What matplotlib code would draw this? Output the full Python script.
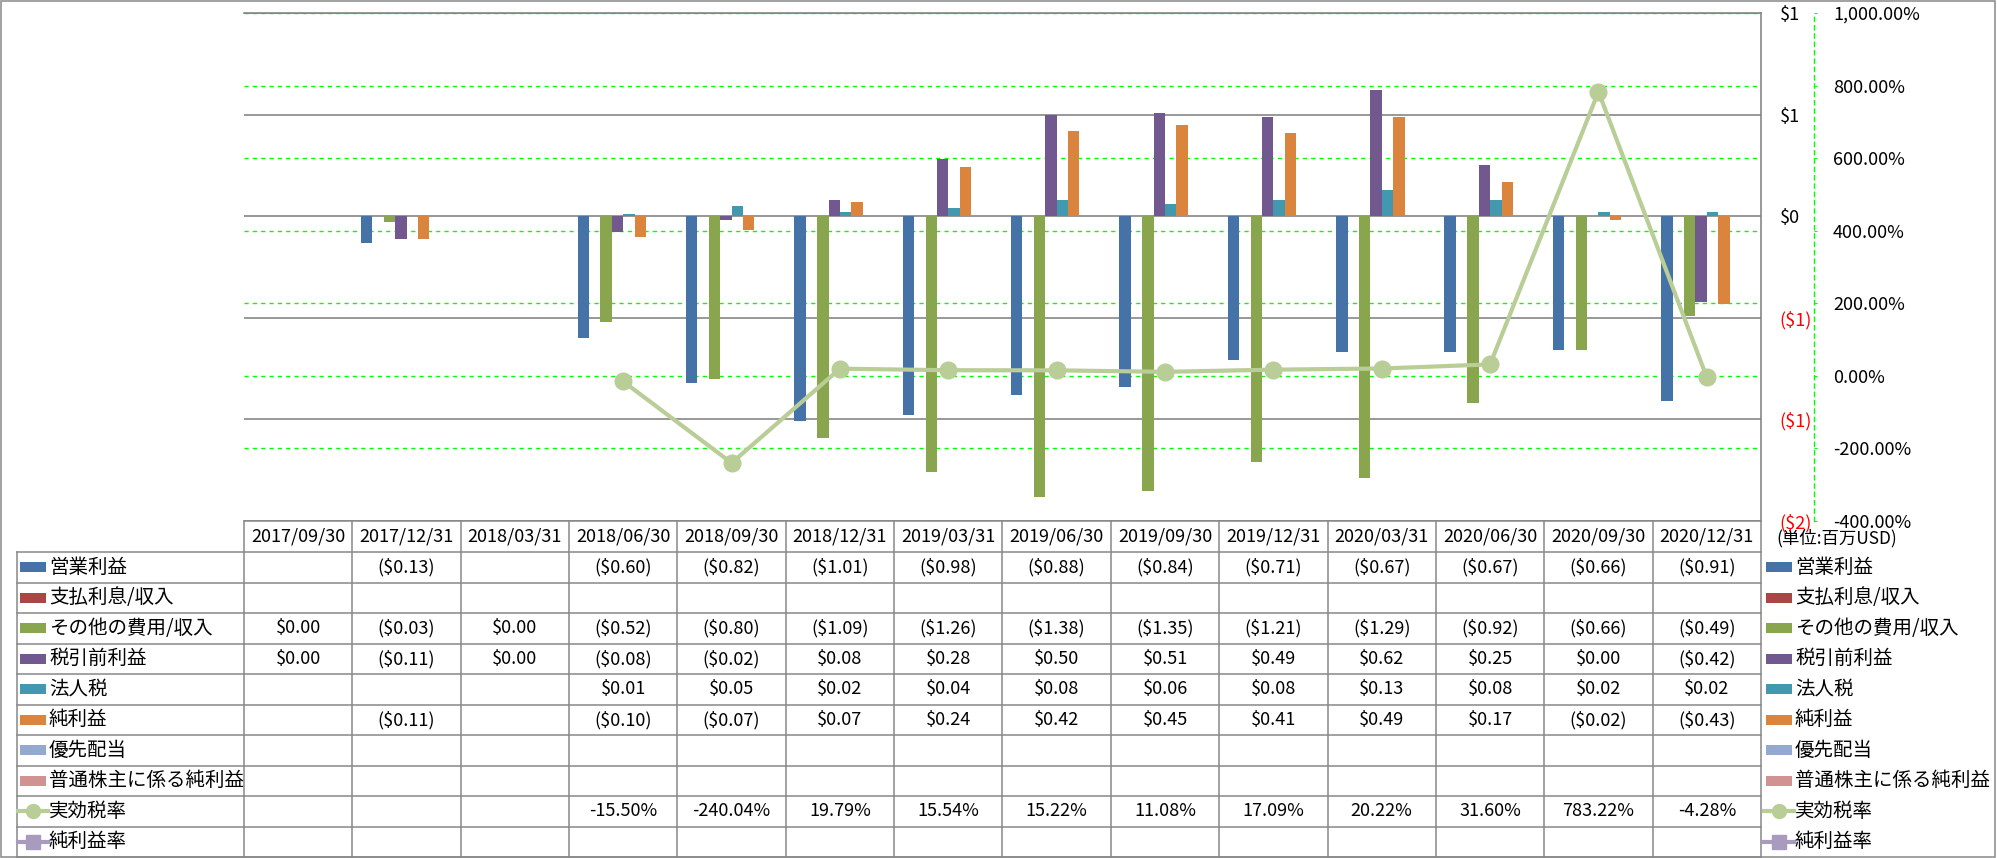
import numpy as np
import matplotlib
matplotlib.use('Agg')
import matplotlib.pyplot as plt
from matplotlib.patches import Rectangle

plt.rcParams['font.family'] = ['Noto Sans CJK JP', 'DejaVu Sans']

nan = np.nan

#%% data
categories = ['2017/09/30', '2017/12/31', '2018/03/31', '2018/06/30', '2018/09/30',
              '2018/12/31', '2019/03/31', '2019/06/30', '2019/09/30', '2019/12/31',
              '2020/03/31', '2020/06/30', '2020/09/30', '2020/12/31']

eigyo = [nan, -0.13, nan, -0.60, -0.82, -1.01, -0.98, -0.88, -0.84, -0.71, -0.67, -0.67, -0.66, -0.91]
shiharai = [nan] * 14
sonota = [0.00, -0.03, 0.00, -0.52, -0.80, -1.09, -1.26, -1.38, -1.35, -1.21, -1.29, -0.92, -0.66, -0.49]
zeibiki = [0.00, -0.11, 0.00, -0.08, -0.02, 0.08, 0.28, 0.50, 0.51, 0.49, 0.62, 0.25, 0.00, -0.42]
hojinzei = [nan, nan, nan, 0.01, 0.05, 0.02, 0.04, 0.08, 0.06, 0.08, 0.13, 0.08, 0.02, 0.02]
junrieki = [nan, -0.11, nan, -0.10, -0.07, 0.07, 0.24, 0.42, 0.45, 0.41, 0.49, 0.17, -0.02, -0.43]
yusen = [nan] * 14
futsu = [nan] * 14
jikko = [nan, nan, nan, -15.50, -240.04, 19.79, 15.54, 15.22, 11.08, 17.09, 20.22, 31.60, 783.22, -4.28]
junriekiritsu = [nan] * 14

bar_names = ['営業利益', '支払利息/収入', 'その他の費用/収入', '税引前利益', '法人税', '純利益',
             '優先配当', '普通株主に係る純利益']
bar_data = [eigyo, shiharai, sonota, zeibiki, hojinzei, junrieki, yusen, futsu]
bar_colors = ['#4572A7', '#AA4643', '#89A54E', '#71588F', '#4198AF', '#DB843D',
              '#93A9CF', '#D19392']
line_names = ['実効税率', '純利益率']
line_data = [jikko, junriekiritsu]
line_colors = ['#B9CD96', '#A99BBD']
line_markers = ['o', 's']

#%% helpers
def money(v):
    if np.isnan(v):
        return ''
    if v < 0:
        return '(${:.2f})'.format(-v)
    return '${:.2f}'.format(v)

def pct(v):
    if np.isnan(v):
        return ''
    return '{:.2f}%'.format(v)

def money_tick(v):
    n = int(abs(v) + 0.5)
    return '(${})'.format(n) if v < 0 else '${}'.format(n)

W, H = 1997, 858
fig = plt.figure(figsize=(W / 100, H / 100), dpi=100)

# overlay in pixel coords for the data table
tab = fig.add_axes([0, 0, 1, 1], zorder=0)
tab.set_xlim(0, W)
tab.set_ylim(H, 0)
tab.axis('off')

x_left, x_right = 244, 1761
y_top, y_bot = 13, 521

ax = fig.add_axes([x_left / W, 1 - y_bot / H, (x_right - x_left) / W, (y_bot - y_top) / H])
ax2 = ax.twinx()
ax.set_zorder(2)
ax2.set_zorder(1)
ax.patch.set_visible(False)
ax2.patch.set_visible(False)

n = len(categories)
x = np.arange(n)
w = 1 / 9.5
for i, (vals, c) in enumerate(zip(bar_data, bar_colors)):
    ax.bar(x + (i - 3.5) * w, vals, width=w, color=c, zorder=3)

ax.plot(x, jikko, transform=ax2.transData, color=line_colors[0], lw=3, marker='o',
        ms=12, solid_joinstyle='round', zorder=5)

ax.set_xlim(-0.5, n - 0.5)
ax.set_ylim(-1.5, 1.0)
pticks = [-1.5, -1.0, -0.5, 0.0, 0.5, 1.0]
ax.set_yticks(pticks, [money_tick(v) for v in pticks])
ax.yaxis.set_ticks_position('right')
ax.tick_params(axis='y', length=0, pad=13.5, labelsize=13)
for t, v in zip(ax.get_yticklabels(), pticks):
    t.set_color('red' if v < 0 else 'black')
ax.set_xticks([])
ax.grid(axis='y', color='#868686', lw=1.2)
ax.set_axisbelow(True)
for s in ['left', 'bottom']:
    ax.spines[s].set_visible(False)
for s in ['right', 'top']:
    ax.spines[s].set_color('#868686')
    ax.spines[s].set_linewidth(1.2)

ax2.set_ylim(-400, 1000)
sticks = list(range(-400, 1001, 200))
ax2.set_yticks(sticks, ['{:,.2f}%'.format(v) for v in sticks])
for t, v in zip(ax2.get_yticklabels(), sticks):
    t.set_color('red' if v < 0 else 'black')
ax2.tick_params(axis='y', length=2.2, color='#00FF00', pad=11.5, labelsize=13)
ax2.set_xticks([])
ax2.grid(axis='y', color='#00FF00', lw=1, ls=(0, (3, 3)))
for s in ['left', 'top', 'bottom']:
    ax2.spines[s].set_visible(False)
ax2.spines['right'].set_position(('outward', 53 * 0.72))
ax2.spines['right'].set_color('#00FF00')
ax2.spines['right'].set_linestyle((0, (3, 3)))
ax2.spines['right'].set_linewidth(1)

#%% data table
gc = '#888888'
lw = 1.1
colw = (x_right - x_left) / n
hdr_top, row_top, rowh = 521, 552, 30.5
names = bar_names + line_names
rows = [[money(v) for v in d] for d in bar_data] + [[pct(v) for v in d] for d in line_data]
nrow = len(names)
tab_bot = row_top + nrow * rowh
tab_left = 17

# header
tab.plot([x_left, x_right], [hdr_top, hdr_top], color=gc, lw=lw)
for j in range(n + 1):
    xx = x_left + j * colw
    tab.plot([xx, xx], [hdr_top, tab_bot], color=gc, lw=lw)
for j, c in enumerate(categories):
    tab.text(x_left + (j + 0.5) * colw, (hdr_top + row_top) / 2, c, ha='center',
             va='center', fontsize=13)
tab.plot([tab_left, tab_left], [row_top, tab_bot], color=gc, lw=lw)
for r in range(nrow + 1):
    yy = row_top + r * rowh
    tab.plot([tab_left, x_right], [yy, yy], color=gc, lw=lw)

def key(x0, yc, r):
    if r < len(bar_names):
        tab.add_patch(Rectangle((x0, yc - 5), 26, 10, color=bar_colors[r], lw=0))
    else:
        k = r - len(bar_names)
        tab.plot([x0 - 2, x0 + 28], [yc, yc], color=line_colors[k], lw=3)
        tab.plot([x0 + 13], [yc], color=line_colors[k], marker=line_markers[k], ms=10, lw=0)

for r in range(nrow):
    yc = row_top + (r + 0.5) * rowh
    key(20, yc, r)
    tab.text(49, yc, names[r], ha='left', va='center', fontsize=14)
    key(1766, yc, r)
    tab.text(1795, yc, names[r], ha='left', va='center', fontsize=14)
    for j in range(n):
        tab.text(x_left + (j + 0.5) * colw, yc, rows[r][j], ha='center', va='center',
                 fontsize=13)

tab.text(1776, 538, '(単位:百万USD)', ha='left', va='center', fontsize=12.5)

# chart border
tab.add_patch(Rectangle((1, 1), W - 3, H - 2, fill=False, edgecolor=gc, lw=lw))

fig.savefig('out.png', dpi=100)
